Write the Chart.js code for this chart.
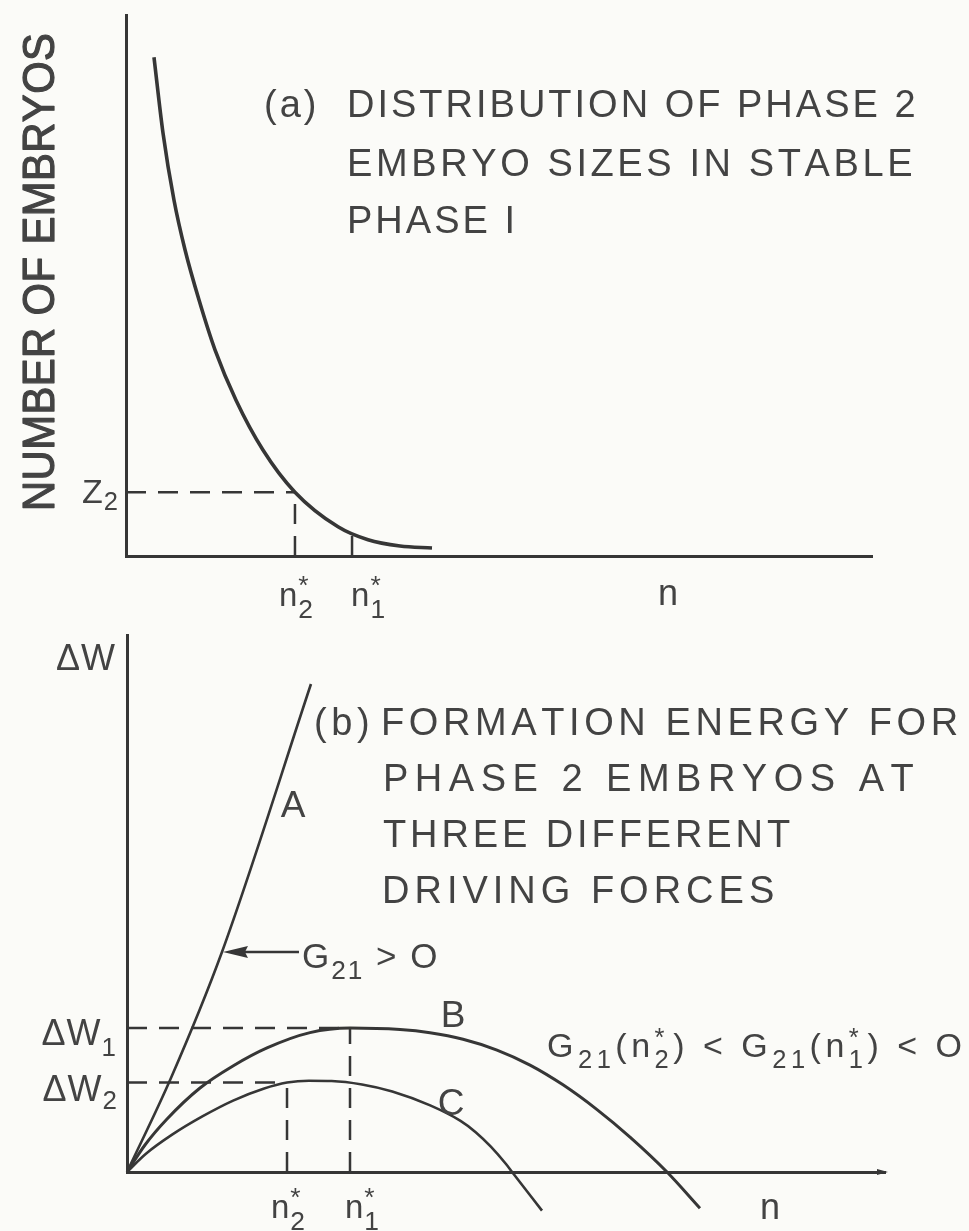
<!DOCTYPE html>
<html>
<head>
<meta charset="utf-8">
<script src="https://cdn.jsdelivr.net/npm/chart.js@4.4.1/dist/chart.umd.min.js"></script>
<style>
  html, body { margin: 0; padding: 0; background: #fbfbf8; }
  #wrap { position: relative; width: 969px; height: 1231px; overflow: hidden; }
  #wrap canvas { position: absolute; left: 0; top: 0; }
</style>
</head>
<body>
<div id="wrap">
  <canvas id="panelA" width="969" height="1231"></canvas>
  <canvas id="panelB" width="969" height="1231"></canvas>
</div>
<script>
// ---------- panel (a): distribution of phase 2 embryo sizes ----------
const embryoSize  = [0.375, 0.496, 0.643, 0.791, 0.979, 1.193, 1.475, 1.836, 2.265, 2.842, 3.244, 3.673, 4.102];
const embryoCount = [9.22, 7.82, 6.58, 5.66, 4.73, 3.81, 2.88, 1.96, 1.18, 0.54, 0.30, 0.185, 0.148];
const nStarA = [2.265, 3.03];   // n2*, n1*
const z2Level = [1.18];          // Z2

// ---------- panel (b): formation energy at three driving forces ----------
const lineAN = [0, 0.580, 1.253, 2.427];
const lineAW = [0, 1.750, 4.097, 9.088];
const curveBN = [0, 0.237, 0.528, 0.963, 1.398, 1.847, 2.414, 2.942, 3.602, 3.997, 4.433, 4.881, 5.317, 5.752, 6.201, 6.636, 7.124, 7.559];
const curveBW = [0, 0.503, 0.987, 1.564, 1.974, 2.31, 2.595, 2.68, 2.652, 2.593, 2.472, 2.271, 1.991, 1.623, 1.162, 0.650, 0, -0.674];
const curveCN = [0, 0.25, 0.6, 1.0, 1.4, 1.8, 2.111, 2.4, 2.7, 3.1, 3.5, 4.0, 4.4, 4.6, 4.8, 5.0, 5.08, 5.475];
const curveCW = [0, 0.34, 0.70, 1.04, 1.33, 1.55, 1.665, 1.70, 1.695, 1.63, 1.50, 1.24, 0.952, 0.742, 0.472, 0.148, 0, -0.72];
const nStarB = [2.111, 2.942];   // n2*, n1*
const deltaW = [2.68, 1.665];    // ΔW1, ΔW2
const arrowIndexA = 2;           // point of curve A that the G21 > O pointer touches

const FONT = '"Liberation Sans", Arial, Helvetica, sans-serif';
const INK = '#363636';
const TXT = '#434343';
const DASH = [20, 12];

const pts = (xs, ys) => xs.map((x, i) => ({ x, y: ys[i] }));

// text with sub/superscripts, drawn character by character with extra spacing
function rich(ctx, parts, x, y, o) {
  const size = o.size, ss = size * (o.subScale || 0.75), sp = o.spacing || 0;
  const subDy = o.subDy != null ? o.subDy : 0.32 * size;
  const supDy = o.supDy != null ? o.supDy : -0.45 * size;
  const wOf = (t, s) => { ctx.font = s + 'px ' + FONT; let w = 0; for (const ch of t) w += ctx.measureText(ch).width + sp; return w; };
  const widths = parts.map(p => p.t != null ? wOf(p.t, size)
    : Math.max(p.sub ? wOf(p.sub, ss) : 0, p.sup ? wOf(p.sup, ss) : 0));
  const total = widths.reduce((a, b) => a + b, 0) - sp;
  let cx = o.align === 'right' ? x - total : o.align === 'center' ? x - total / 2 : x;
  const base = y + 0.358 * size;
  const put = (t, s, px, py) => {
    ctx.font = s + 'px ' + FONT;
    for (const ch of t) {
      ctx.fillText(ch, px, py);
      if (o.weight) ctx.strokeText(ch, px, py);
      px += ctx.measureText(ch).width + sp;
    }
  };
  ctx.save();
  ctx.fillStyle = o.color || TXT;
  ctx.strokeStyle = o.color || TXT;
  ctx.lineWidth = o.weight || 0;
  ctx.lineJoin = 'round';
  ctx.textAlign = 'left';
  ctx.textBaseline = 'alphabetic';
  parts.forEach((p, i) => {
    if (p.t != null) put(p.t, size, cx, base);
    else {
      if (p.sub) put(p.sub, ss, cx, base + subDy);
      if (p.sup) put(p.sup, ss, cx, base + supDy);
    }
    cx += widths[i];
  });
  ctx.restore();
  return total;
}

const nLabel = { size: 33, subScale: 0.8, subDy: 12, supDy: -12, spacing: 1 };
const titleA = { size: 38, spacing: 3 };
const titleB = { size: 38, spacing: 4.6 };

function axisOnly(minY, maxY) {
  const common = {
    type: 'linear', min: 0, max: 10,
    grid: { display: false, drawTicks: false },
    ticks: { display: false },
    border: { display: true, color: INK, width: 3 }
  };
  return {
    x: Object.assign({}, common, { afterFit(s) { s.height = 0; } }),
    y: Object.assign({}, common, { min: minY, max: maxY, afterFit(s) { s.width = 0; } })
  };
}

const curveStyle = (w) => ({
  borderColor: INK, borderWidth: w, pointRadius: 0, fill: false,
  cubicInterpolationMode: 'monotone', capBezierPoints: false
});
const dashStyle = () => ({ borderColor: INK, borderWidth: 2.5, borderDash: DASH, pointRadius: 0, fill: false, tension: 0 });

// ---------- panel (a) annotations ----------
const panelAText = {
  id: 'panelAText',
  afterDraw(chart) {
    const ctx = chart.ctx, xs = chart.scales.x, ys = chart.scales.y;
    const y0 = ys.getPixelForValue(0);
    // n1* tick on the axis
    const t1 = xs.getPixelForValue(nStarA[1]);
    ctx.save();
    ctx.strokeStyle = INK; ctx.lineWidth = 2.5;
    ctx.beginPath(); ctx.moveTo(t1, y0); ctx.lineTo(t1, y0 - 20); ctx.stroke();
    ctx.restore();

    // axis title
    ctx.save();
    ctx.translate(38, 272);
    ctx.rotate(-Math.PI / 2);
    ctx.scale(0.93, 1);
    rich(ctx, [{ t: 'NUMBER OF EMBRYOS' }], 0, 0, { size: 45, spacing: 0.4, align: 'center', weight: 1.2 });
    ctx.restore();

    // Z2 level
    rich(ctx, [{ t: 'Z' }, { sub: '2' }], xs.left - 8, ys.getPixelForValue(z2Level[0]) - 1,
      { size: 34, subScale: 0.75, subDy: 7, spacing: 1, align: 'right' });
    // n labels
    const t2 = xs.getPixelForValue(nStarA[0]);
    rich(ctx, [{ t: 'n' }, { sup: '*', sub: '2' }], t2 + 1, y0 + 38, Object.assign({ align: 'center' }, nLabel));
    rich(ctx, [{ t: 'n' }, { sup: '*', sub: '1' }], t1 + 16, y0 + 38, Object.assign({ align: 'center' }, nLabel));
    rich(ctx, [{ t: 'n' }], 668, y0 + 36, { size: 36, align: 'center' });

    // panel caption
    rich(ctx, [{ t: '(a)' }], 264, 103, titleA);
    rich(ctx, [{ t: 'DISTRIBUTION OF PHASE 2' }], 347, 103, titleA);
    rich(ctx, [{ t: 'EMBRYO SIZES IN STABLE' }], 347, 162, Object.assign({}, titleA, { spacing: 3.6 }));
    rich(ctx, [{ t: 'PHASE I' }], 347, 219, titleA);
  }
};

new Chart(document.getElementById('panelA'), {
  type: 'line',
  data: {
    datasets: [
      Object.assign({ data: pts(embryoSize, embryoCount) }, curveStyle(3.6)),
      Object.assign({ data: [{ x: 0, y: z2Level[0] }, { x: nStarA[0], y: z2Level[0] }] }, dashStyle()),
      Object.assign({ data: [{ x: nStarA[0], y: 0 }, { x: nStarA[0], y: z2Level[0] }] }, dashStyle())
    ]
  },
  options: {
    responsive: false, animation: false, events: [],
    layout: { padding: { left: 126, right: 97, top: 15, bottom: 675 } },
    plugins: { legend: { display: false }, tooltip: { enabled: false } },
    scales: axisOnly(0, 10)
  },
  plugins: [panelAText]
});

// ---------- panel (b) annotations ----------
const panelBText = {
  id: 'panelBText',
  afterDraw(chart) {
    const ctx = chart.ctx, xs = chart.scales.x, ys = chart.scales.y;
    const y0 = ys.getPixelForValue(0);
    const xEnd = xs.right;

    ctx.save();
    ctx.fillStyle = INK;
    // arrow head at the end of the n axis
    ctx.beginPath();
    ctx.moveTo(xEnd + 3, y0); ctx.lineTo(xEnd - 8, y0 - 3); ctx.lineTo(xEnd - 8, y0 + 3); ctx.closePath(); ctx.fill();

    // G21 > O pointer onto curve A
    const tx = xs.getPixelForValue(lineAN[arrowIndexA]) + 1;
    const ty = ys.getPixelForValue(lineAW[arrowIndexA]);
    ctx.strokeStyle = INK; ctx.lineWidth = 2.5;
    ctx.beginPath(); ctx.moveTo(tx + 16, ty); ctx.lineTo(tx + 76, ty); ctx.stroke();
    ctx.beginPath();
    ctx.moveTo(tx, ty); ctx.lineTo(tx + 25, ty - 6); ctx.lineTo(tx + 22, ty); ctx.lineTo(tx + 25, ty + 6); ctx.closePath(); ctx.fill();
    ctx.restore();
    rich(ctx, [{ t: 'G' }, { sub: '21' }, { t: ' > O' }], tx + 79, ty + 3, { size: 35, subScale: 0.75, subDy: 11, spacing: 2 });

    // axis labels
    rich(ctx, [{ t: '\u0394W' }], xs.left - 12, 657, { size: 36, align: 'right', spacing: 1 });
    rich(ctx, [{ t: '\u0394W' }, { sub: '1' }], xs.left - 11, ys.getPixelForValue(deltaW[0]) + 4,
      { size: 36, subScale: 0.72, subDy: 11, spacing: 1, align: 'right' });
    rich(ctx, [{ t: '\u0394W' }, { sub: '2' }], xs.left - 10, ys.getPixelForValue(deltaW[1]) + 6,
      { size: 36, subScale: 0.72, subDy: 8, spacing: 1, align: 'right' });

    const t2 = xs.getPixelForValue(nStarB[0]);
    const t1 = xs.getPixelForValue(nStarB[1]);
    rich(ctx, [{ t: 'n' }, { sup: '*', sub: '2' }], t2 + 1, y0 + 34, Object.assign({ align: 'center' }, nLabel));
    rich(ctx, [{ t: 'n' }, { sup: '*', sub: '1' }], t1 + 12, y0 + 34, Object.assign({ align: 'center' }, nLabel));
    rich(ctx, [{ t: 'n' }], 770, y0 + 34, { size: 36, align: 'center' });

    // curve names
    rich(ctx, [{ t: 'A' }], 293, 804, { size: 37, align: 'center' });
    rich(ctx, [{ t: 'B' }], 453, 1014, { size: 37, align: 'center' });
    rich(ctx, [{ t: 'C' }], 451, 1102, { size: 37, align: 'center' });

    // driving-force relation
    rich(ctx, [{ t: 'G' }, { sub: '21' }, { t: '(n' }, { sup: '*', sub: '2' }, { t: ') < G' }, { sub: '21' }, { t: '(n' }, { sup: '*', sub: '1' }, { t: ') < O' }],
      547, 1045, { size: 34, subScale: 0.75, subDy: 11, supDy: -11, spacing: 4.5 });

    // panel caption
    rich(ctx, [{ t: '(b)' }], 314, 721, titleB);
    rich(ctx, [{ t: 'FORMATION ENERGY FOR' }], 381, 721, titleB);
    rich(ctx, [{ t: 'PHASE 2 EMBRYOS AT' }], 383, 777, Object.assign({}, titleB, { spacing: 6.5 }));
    rich(ctx, [{ t: 'THREE DIFFERENT' }], 383, 833, Object.assign({}, titleB, { spacing: 3.9 }));
    rich(ctx, [{ t: 'DRIVING FORCES' }], 382, 889, Object.assign({}, titleB, { spacing: 5 }));
  }
};

new Chart(document.getElementById('panelB'), {
  type: 'line',
  data: {
    datasets: [
      Object.assign({ data: pts(lineAN, lineAW) }, curveStyle(2.6)),
      Object.assign({ data: pts(curveBN, curveBW), clip: false }, curveStyle(3)),
      Object.assign({ data: pts(curveCN, curveCW), clip: false }, curveStyle(2.6)),
      Object.assign({ data: [{ x: 0, y: deltaW[0] }, { x: nStarB[1], y: deltaW[0] }] }, dashStyle()),
      Object.assign({ data: [{ x: nStarB[1], y: 0 }, { x: nStarB[1], y: deltaW[0] }] }, dashStyle()),
      Object.assign({ data: [{ x: 0, y: deltaW[1] }, { x: nStarB[0], y: deltaW[1] }] }, dashStyle()),
      Object.assign({ data: [{ x: nStarB[0], y: 0 }, { x: nStarB[0], y: deltaW[1] }] }, dashStyle())
    ]
  },
  options: {
    responsive: false, animation: false, events: [],
    layout: { padding: { left: 127, right: 84, top: 635, bottom: 59 } },
    plugins: { legend: { display: false }, tooltip: { enabled: false } },
    scales: axisOnly(0, 10)
  },
  plugins: [panelBText]
});
</script>
</body>
</html>
